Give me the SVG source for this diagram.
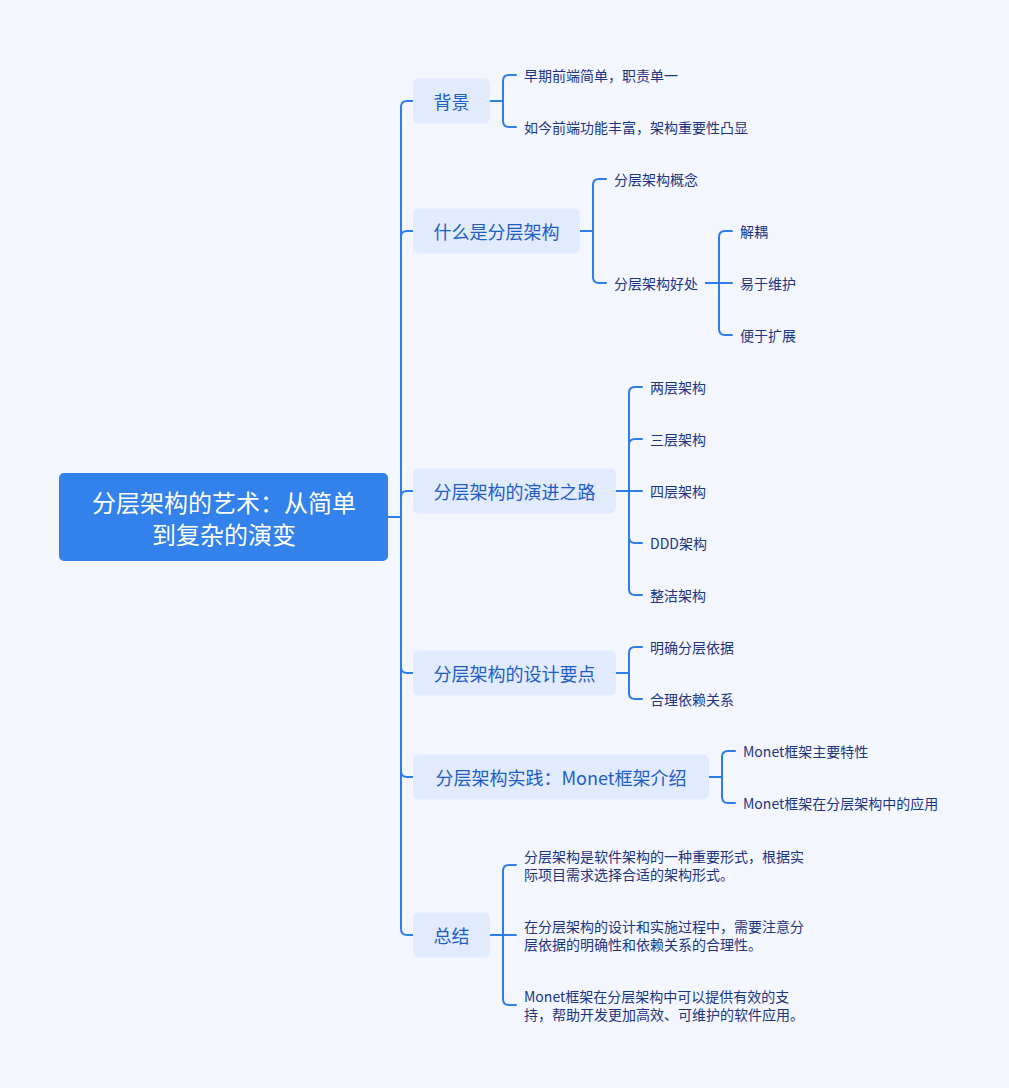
<svg xmlns="http://www.w3.org/2000/svg" width="1009" height="1088" viewBox="0 0 1009 1088">
<style>
text{font-family:"Noto Sans CJK SC","Noto Sans",sans-serif;dominant-baseline:central}
.root rect{fill:#3381ea}
.root text{fill:#ffffff;font-size:24px;text-anchor:middle}
.l1 rect{fill:#e2eafd}
.l1 text{fill:#1d5ec6;font-size:18px;text-anchor:middle}
.leaf{fill:#1b3580;font-size:14px}
#connectors path{fill:none;stroke:#2f7de9;stroke-width:2;stroke-linecap:round;stroke-linejoin:round}
</style>
<rect width="1009" height="1088" fill="#f4f6fe"/>
<g id="connectors">
<path d="M388,517 H401 V107 Q401,101 407,101 H413"/>
<path d="M388,517 H401 V237 Q401,231 407,231 H413"/>
<path d="M388,517 H401 V497 Q401,491 407,491 H413"/>
<path d="M388,517 H401 V667 Q401,673 407,673 H413"/>
<path d="M388,517 H401 V771 Q401,777 407,777 H413"/>
<path d="M388,517 H401 V929 Q401,935 407,935 H413"/>
<path d="M490,101 H503 V81 Q503,75 509,75 H516"/>
<path d="M490,101 H503 V121 Q503,127 509,127 H516"/>
<path d="M580,231 H593 V185 Q593,179 599,179 H606"/>
<path d="M580,231 H593 V277 Q593,283 599,283 H606"/>
<path d="M706,283 H719 V237 Q719,231 725,231 H732"/>
<path d="M706,283 H732"/>
<path d="M706,283 H719 V329 Q719,335 725,335 H732"/>
<path d="M616,491 H629 V393 Q629,387 635,387 H642"/>
<path d="M616,491 H629 V445 Q629,439 635,439 H642"/>
<path d="M616,491 H642"/>
<path d="M616,491 H629 V537 Q629,543 635,543 H642"/>
<path d="M616,491 H629 V589 Q629,595 635,595 H642"/>
<path d="M616,673 H629 V653 Q629,647 635,647 H642"/>
<path d="M616,673 H629 V693 Q629,699 635,699 H642"/>
<path d="M709,777 H722 V757 Q722,751 728,751 H735"/>
<path d="M709,777 H722 V797 Q722,803 728,803 H735"/>
<path d="M490,935 H503 V871 Q503,865 509,865 H516"/>
<path d="M490,935 H516"/>
<path d="M490,935 H503 V999 Q503,1005 509,1005 H516"/>
</g>
<g id="root" class="root">
<rect x="59" y="473" width="329" height="88" rx="5"/>
<text x="224" y="501">分层架构的艺术：从简单</text>
<text x="224" y="533">到复杂的演变</text>
</g>
<g id="n-bg" class="l1"><rect x="413" y="78.5" width="77" height="45" rx="6"/><text x="451.5" y="101">背景</text></g>
<g id="n-what" class="l1"><rect x="413" y="208.5" width="167" height="45" rx="6"/><text x="496.5" y="231">什么是分层架构</text></g>
<g id="n-evo" class="l1"><rect x="413" y="468.5" width="203" height="45" rx="6"/><text x="514.5" y="491">分层架构的演进之路</text></g>
<g id="n-design" class="l1"><rect x="413" y="650.5" width="203" height="45" rx="6"/><text x="514.5" y="673">分层架构的设计要点</text></g>
<g id="n-monet" class="l1"><rect x="413" y="754.5" width="296" height="45" rx="6"/><text x="561" y="777">分层架构实践：Monet框架介绍</text></g>
<g id="n-sum" class="l1"><rect x="413" y="912.5" width="77" height="45" rx="6"/><text x="451.5" y="935">总结</text></g>
<g id="c-bg1"><text class="leaf" x="524" y="75">早期前端简单，职责单一</text></g>
<g id="c-bg2"><text class="leaf" x="524" y="127">如今前端功能丰富，架构重要性凸显</text></g>
<g id="c-what1"><text class="leaf" x="614" y="179">分层架构概念</text></g>
<g id="c-what2"><text class="leaf" x="614" y="283">分层架构好处</text></g>
<g id="c-b1"><text class="leaf" x="740" y="231">解耦</text></g>
<g id="c-b2"><text class="leaf" x="740" y="283">易于维护</text></g>
<g id="c-b3"><text class="leaf" x="740" y="335">便于扩展</text></g>
<g id="c-e1"><text class="leaf" x="650" y="387">两层架构</text></g>
<g id="c-e2"><text class="leaf" x="650" y="439">三层架构</text></g>
<g id="c-e3"><text class="leaf" x="650" y="491">四层架构</text></g>
<g id="c-e4"><text class="leaf" x="650" y="543">DDD架构</text></g>
<g id="c-e5"><text class="leaf" x="650" y="595">整洁架构</text></g>
<g id="c-d1"><text class="leaf" x="650" y="647">明确分层依据</text></g>
<g id="c-d2"><text class="leaf" x="650" y="699">合理依赖关系</text></g>
<g id="c-m1"><text class="leaf" x="743" y="751">Monet框架主要特性</text></g>
<g id="c-m2"><text class="leaf" x="743" y="803">Monet框架在分层架构中的应用</text></g>
<g id="c-s1"><text class="leaf" x="524" y="856">分层架构是软件架构的一种重要形式，根据实</text><text class="leaf" x="524" y="874">际项目需求选择合适的架构形式。</text></g>
<g id="c-s2"><text class="leaf" x="524" y="926">在分层架构的设计和实施过程中，需要注意分</text><text class="leaf" x="524" y="944">层依据的明确性和依赖关系的合理性。</text></g>
<g id="c-s3"><text class="leaf" x="524" y="996">Monet框架在分层架构中可以提供有效的支</text><text class="leaf" x="524" y="1014">持，帮助开发更加高效、可维护的软件应用。</text></g>
</svg>
